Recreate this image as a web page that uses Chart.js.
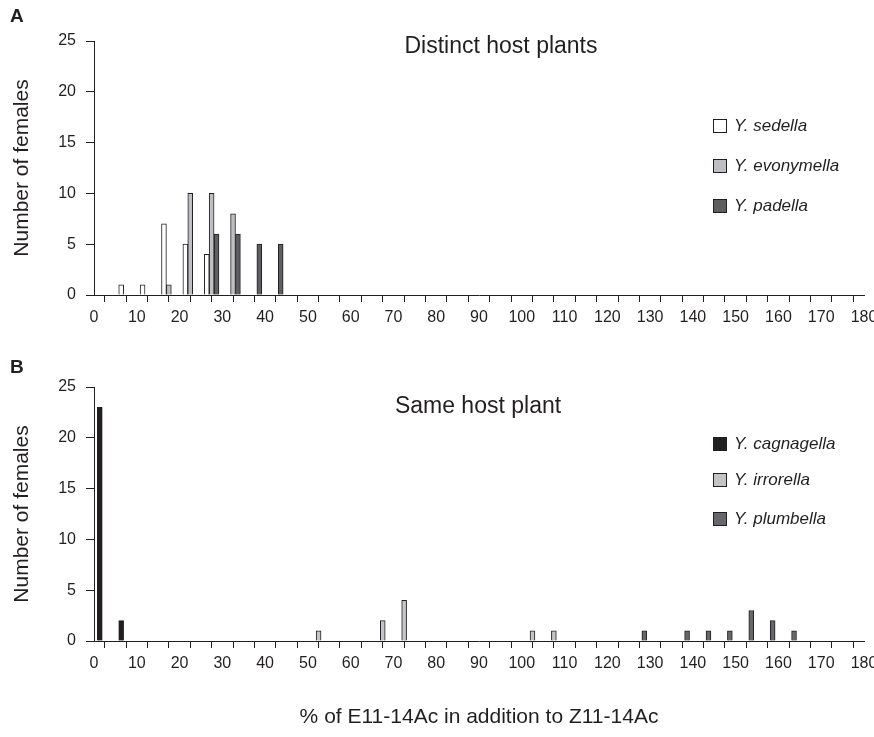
<!DOCTYPE html>
<html>
<head>
<meta charset="utf-8">
<script src="https://cdn.jsdelivr.net/npm/chart.js@4/dist/chart.umd.min.js"></script>
<style>
  body { margin: 0; background: #fff; }
  .panel { position: absolute; left: 0; width: 874px; }
  #panelA { top: 0; height: 345px; }
  #panelB { top: 350px; height: 387px; }
</style>
</head>
<body>
<div class="panel" id="panelA"><canvas id="chartA"></canvas></div>
<div class="panel" id="panelB"><canvas id="chartB"></canvas></div>
<script>
// bin centres (5% wide bins) of the E11-14Ac share
const binCenters = [
  2.5, 7.5, 12.5, 17.5, 22.5, 27.5, 32.5, 37.5, 42.5, 47.5, 52.5, 57.5,
  62.5, 67.5, 72.5, 77.5, 82.5, 87.5, 92.5, 97.5, 102.5, 107.5, 112.5, 117.5,
  122.5, 127.5, 132.5, 137.5, 142.5, 147.5, 152.5, 157.5, 162.5, 167.5, 172.5, 177.5
];

// A: distinct host plants
const sedella = [
  0, 1, 1, 7, 5, 4, 0, 0, 0, 0, 0, 0,
  0, 0, 0, 0, 0, 0, 0, 0, 0, 0, 0, 0,
  0, 0, 0, 0, 0, 0, 0, 0, 0, 0, 0, 0
];
const evonymella = [
  0, 0, 0, 1, 10, 10, 8, 0, 0, 0, 0, 0,
  0, 0, 0, 0, 0, 0, 0, 0, 0, 0, 0, 0,
  0, 0, 0, 0, 0, 0, 0, 0, 0, 0, 0, 0
];
const padella = [
  0, 0, 0, 0, 0, 6, 6, 5, 5, 0, 0, 0,
  0, 0, 0, 0, 0, 0, 0, 0, 0, 0, 0, 0,
  0, 0, 0, 0, 0, 0, 0, 0, 0, 0, 0, 0
];

// B: same host plant
const cagnagella = [
  23, 2, 0, 0, 0, 0, 0, 0, 0, 0, 0, 0,
  0, 0, 0, 0, 0, 0, 0, 0, 0, 0, 0, 0,
  0, 0, 0, 0, 0, 0, 0, 0, 0, 0, 0, 0
];
const irrorella = [
  0, 0, 0, 0, 0, 0, 0, 0, 0, 0, 1, 0,
  0, 2, 4, 0, 0, 0, 0, 0, 1, 1, 0, 0,
  0, 0, 0, 0, 0, 0, 0, 0, 0, 0, 0, 0
];
const plumbella = [
  0, 0, 0, 0, 0, 0, 0, 0, 0, 0, 0, 0,
  0, 0, 0, 0, 0, 0, 0, 0, 0, 0, 0, 0,
  0, 1, 0, 1, 1, 1, 3, 2, 1, 0, 0, 0
];

const ink = "#231f20";
const fontFamily = "'Liberation Sans', Arial, sans-serif";

function toPoints(counts) {
  return binCenters.map((x, i) => ({ x: x, y: counts[i] }));
}

function bars(label, counts, color) {
  return {
    label: label,
    data: toPoints(counts),
    backgroundColor: color,
    borderColor: ink,
    borderWidth: 1,
    borderSkipped: "bottom",
    barThickness: 4.9,
  };
}

// letter, panel heading and legend drawn inside the plot
const panelText = {
  id: "panelText",
  afterDraw(chart, args, opts) {
    const ctx = chart.ctx;
    ctx.save();
    ctx.fillStyle = ink;
    ctx.textBaseline = "middle";
    ctx.font = "bold 19px " + fontFamily;
    ctx.textAlign = "left";
    ctx.fillText(opts.letter, 10, opts.letterY);
    ctx.font = "23px " + fontFamily;
    ctx.textAlign = "center";
    ctx.fillText(opts.heading, opts.headingX, opts.headingY);
    ctx.font = "italic 17px " + fontFamily;
    ctx.textAlign = "left";
    chart.data.datasets.forEach((ds, i) => {
      const y = opts.legendY[i];
      ctx.fillStyle = ds.backgroundColor;
      ctx.fillRect(713.5, y - 6.5, 13, 13);
      ctx.strokeStyle = ink;
      ctx.lineWidth = 1;
      ctx.strokeRect(713.5, y - 6.5, 13, 13);
      ctx.fillStyle = ink;
      ctx.fillText(ds.label, 734, y);
    });
    ctx.restore();
  },
};

function makeChart(id, datasets, text, plotTop, xHeight, showTitle) {
  return new Chart(document.getElementById(id), {
    type: "bar",
    data: { datasets: datasets },
    plugins: [panelText],
    options: {
      responsive: true,
      maintainAspectRatio: false,
      animation: false,
      layout: { padding: { top: plotTop, right: 10, left: 0, bottom: 0 } },
      scales: {
        x: {
          type: "linear",
          min: 0,
          max: 180,
          offset: false,
          afterFit: (scale) => {
            scale.height = xHeight;
            scale.paddingLeft = 0;
            scale.paddingRight = 0;
          },
          grid: { drawOnChartArea: false, drawTicks: true, tickLength: 7, color: ink },
          border: { display: true, color: ink, width: 1 },
          ticks: {
            stepSize: 5,
            autoSkip: false,
            maxRotation: 0,
            minRotation: 0,
            padding: 6,
            color: ink,
            font: { family: fontFamily, size: 16 },
            callback: (v) => (v % 10 === 0 ? v : ""),
          },
          title: {
            display: showTitle,
            text: "% of E11-14Ac in addition to Z11-14Ac",
            color: ink,
            font: { family: fontFamily, size: 21 },
            padding: { top: 0, bottom: 7 },
          },
        },
        y: {
          min: 0,
          max: 25,
          afterFit: (scale) => { scale.width = 94; },
          grid: { drawOnChartArea: false, drawTicks: true, tickLength: 8, color: ink },
          border: { display: true, color: ink, width: 1 },
          ticks: {
            stepSize: 5,
            padding: 10,
            color: ink,
            font: { family: fontFamily, size: 16 },
          },
          title: {
            display: true,
            text: "Number of females",
            color: ink,
            font: { family: fontFamily, size: 21 },
            padding: { top: 10, bottom: 0 },
          },
        },
      },
      plugins: {
        legend: { display: false },
        tooltip: { enabled: false },
        panelText: text,
      },
    },
  });
}

makeChart(
  "chartA",
  [
    bars("Y. sedella", sedella, "#ffffff"),
    bars("Y. evonymella", evonymella, "#bebfc3"),
    bars("Y. padella", padella, "#5e5e62"),
  ],
  { letter: "A", letterY: 17, heading: "Distinct host plants", headingX: 501, headingY: 47, legendY: [126, 166, 206] },
  41, 50, false
);

makeChart(
  "chartB",
  [
    bars("Y. cagnagella", cagnagella, "#231f20"),
    bars("Y. irrorella", irrorella, "#c3c4c8"),
    bars("Y. plumbella", plumbella, "#67676b"),
  ],
  { letter: "B", letterY: 18, heading: "Same host plant", headingX: 478, headingY: 57, legendY: [94, 130, 169] },
  37, 96, true
);
</script>
</body>
</html>
